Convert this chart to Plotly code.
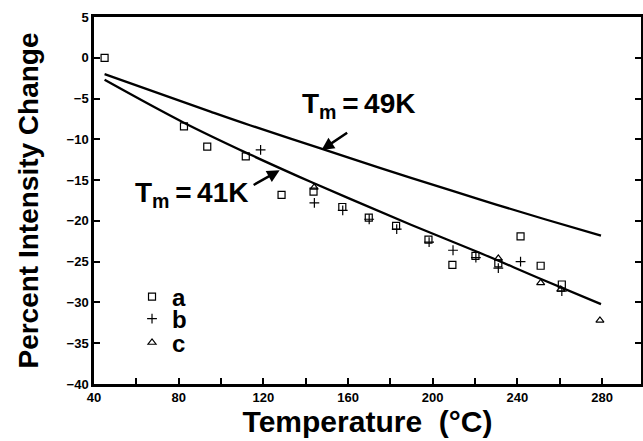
import plotly.graph_objects as go

# ---- data ----
a_temp = [45, 82.5, 93.5, 111.7, 128.6, 143.7, 157.3, 169.8, 182.7, 198, 209.3, 220.2, 231, 241.5, 251, 261]
a_change = [0, -8.4, -10.9, -12.1, -16.8, -16.4, -18.3, -19.6, -20.6, -22.3, -25.4, -24.3, -25.2, -21.9, -25.5, -27.8]

b_temp = [118.7, 144.1, 157.5, 170, 183, 198.3, 209.6, 220.4, 231, 241.5, 261]
b_change = [-11.3, -17.8, -18.7, -19.8, -21.0, -22.6, -23.6, -24.5, -25.8, -25.0, -28.6]

c_temp = [144, 231, 251, 260.5, 279]
c_change = [-15.9, -24.6, -27.6, -28.4, -32.2]

fit49_temp = [45, 95, 114, 147, 175, 209, 230, 253, 279.5]
fit49_change = [-2.0, -6.6, -8.3, -11.1, -13.5, -16.3, -18.0, -19.8, -21.8]

fit41_temp = [45, 82, 114, 137, 161, 190, 223, 250, 279.5]
fit41_change = [-2.7, -7.9, -11.9, -14.6, -17.3, -20.5, -24.0, -27.0, -30.2]

x_ticks = [40, 80, 120, 160, 200, 240, 280]
y_ticks = [5, 0, -5, -10, -15, -20, -25, -30, -35, -40]

FONT = "Liberation Sans, Arial, Helvetica, sans-serif"
mline = dict(color="black", width=1.2)

fig = go.Figure()
fig.add_trace(go.Scatter(x=fit49_temp, y=fit49_change, mode="lines", line=dict(color="black", width=2.3, shape="spline"),
                         showlegend=False, hoverinfo="skip"))
fig.add_trace(go.Scatter(x=fit41_temp, y=fit41_change, mode="lines", line=dict(color="black", width=2.3, shape="spline"),
                         showlegend=False, hoverinfo="skip"))
fig.add_trace(go.Scatter(x=a_temp, y=a_change, mode="markers", name="a", legend="legend",
                         marker=dict(symbol="square-open", size=7, color="black", line=mline)))
fig.add_trace(go.Scatter(x=b_temp, y=b_change, mode="markers", name="b", legend="legend2",
                         marker=dict(symbol="cross-thin-open", size=7, color="black", line=mline)))
fig.add_trace(go.Scatter(x=c_temp, y=c_change, mode="markers", name="c", legend="legend3",
                         marker=dict(symbol="triangle-up-open", size=7, color="black", line=mline)))

ann_font = dict(family=FONT, size=28, color="black", weight="bold")
fig.add_annotation(x=137.3, y=-5.9, xref="x", yref="y", text="T<sub>m</sub>\u2009=\u200949K", showarrow=False,
                   xanchor="left", yanchor="middle", font=ann_font)
fig.add_annotation(x=58.4, y=-16.75, xref="x", yref="y", text="T<sub>m</sub>\u2009=\u200941K", showarrow=False,
                   xanchor="left", yanchor="middle", font=ann_font)
fig.add_annotation(x=147.5, y=-11.3, ax=160.3, ay=-9.06, xref="x", yref="y", axref="x", ayref="y",
                   text="", showarrow=True, arrowhead=2, arrowsize=1, arrowwidth=2.5, arrowcolor="black", standoff=0)
fig.add_annotation(x=127.7, y=-13.8, ax=114.7, ay=-15.7, xref="x", yref="y", axref="x", ayref="y",
                   text="", showarrow=True, arrowhead=2, arrowsize=1, arrowwidth=2.5, arrowcolor="black", standoff=0)

axis_common = dict(showline=True, linecolor="black", linewidth=2.5, showgrid=False, zeroline=False,
                   ticks="inside", ticklen=6, tickwidth=2, tickcolor="black", automargin=False,
                   tickfont=dict(family=FONT, size=13, color="black", weight="bold"))

leg_common = dict(x=0.0695, xanchor="left", yanchor="middle", bgcolor="rgba(0,0,0,0)",
                  font=dict(family=FONT, size=24, color="black", weight="bold"), itemwidth=30)

fig.update_layout(
    width=643, height=441,
    margin=dict(l=94, r=2, t=17, b=57),
    plot_bgcolor="white", paper_bgcolor="white",
    font=dict(family=FONT, color="black"),
    xaxis=dict(range=[40, 298.4], tickvals=x_ticks, mirror=True,
               minor=dict(dtick=20, tick0=40, ticks="inside", ticklen=6, tickwidth=2, tickcolor="black"),
               title=dict(text="Temperature  (°C)", standoff=4,
                          font=dict(family=FONT, size=30, color="black", weight="bold")),
               **axis_common),
    yaxis=dict(range=[-40, 5], tickvals=y_ticks, mirror="ticks",
               title=dict(text="Percent Intensity Change", standoff=20,
                          font=dict(family=FONT, size=28, color="black", weight="bold")),
               **axis_common),
    legend=dict(y=0.237, **leg_common),
    legend2=dict(y=0.177, **leg_common),
    legend3=dict(y=0.112, **leg_common),
)

fig.write_html("out.html", config={"displayModeBar": False},
               post_script="document.body.style.margin='0';document.body.style.overflow='hidden';")
